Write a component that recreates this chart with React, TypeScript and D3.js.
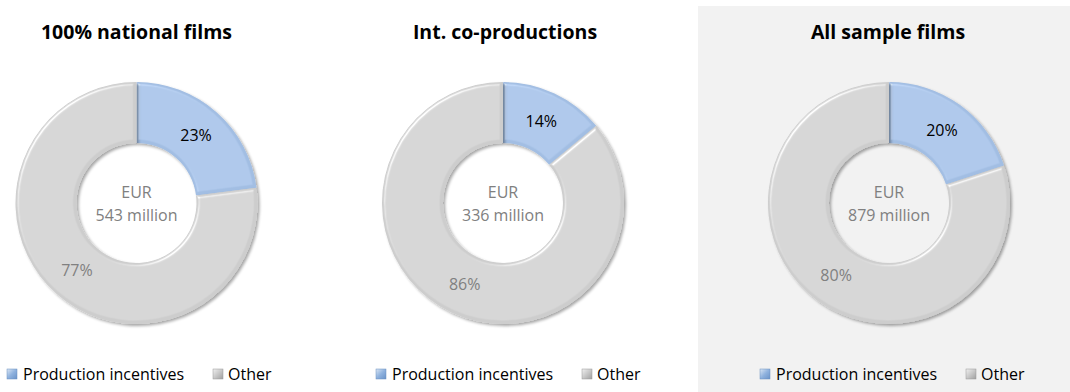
import React from "react";
import * as d3 from "d3";

const titles = ["100% national films", "Int. co-productions", "All sample films"];
const totalsEurMillion = [543, 336, 879];
const incentiveShare = [23, 14, 20];
const otherShare = [77, 86, 80];
const seriesNames = ["Production incentives", "Other"];

const W = 1070;
const H = 392;
const centersX = [136.5, 503, 889];
const titleX = [136.5, 505, 888];
const centerY = 203;
const outerR = 121;
const innerR = 60;
const colors = ["#a2bee3", "#cdcdcd"];
const labelColors = ["#000000", "#808080"];
const legendStartX = [7, 376, 760];
const FONT = "'Open Sans', Lato, sans-serif";

export default function App() {
  const pie = d3.pie<number>().sort(null).value((d) => d);
  const arc = d3.arc<d3.PieArcDatum<number>>().innerRadius(innerR).outerRadius(outerR);
  const labelArc = d3.arc<d3.PieArcDatum<number>>().innerRadius(90).outerRadius(90);

  return (
    <svg width={W} height={H} style={{ position: "absolute", left: 0, top: 0, display: "block" }}>
      <defs>
        <filter id="bevel" x="-5%" y="-5%" width="110%" height="110%">
          <feGaussianBlur in="SourceAlpha" stdDeviation="1.6" result="blur" />
          <feSpecularLighting in="blur" surfaceScale="2.5" specularConstant="0.7" specularExponent="18" lightingColor="#ffffff" result="spec">
            <feDistantLight azimuth="225" elevation="40" />
          </feSpecularLighting>
          <feComposite in="spec" in2="SourceAlpha" operator="in" result="specIn" />
          <feComposite in="SourceGraphic" in2="specIn" operator="arithmetic" k1="0" k2="1" k3="0.6" k4="0" result="lit" />
          <feOffset in="SourceAlpha" dx="1.5" dy="1.5" result="off" />
          <feGaussianBlur in="off" stdDeviation="1.5" result="shadowBlur" />
          <feComponentTransfer in="shadowBlur" result="shadow">
            <feFuncA type="linear" slope="0.35" />
          </feComponentTransfer>
          <feMerge>
            <feMergeNode in="shadow" />
            <feMergeNode in="lit" />
          </feMerge>
        </filter>
        <linearGradient id="legBlue" x1="0" y1="0" x2="1" y2="1">
          <stop offset="0" stopColor="#dbe6f4" />
          <stop offset="0.5" stopColor="#8fb2de" />
          <stop offset="1" stopColor="#6a93c8" />
        </linearGradient>
        <linearGradient id="legGray" x1="0" y1="0" x2="1" y2="1">
          <stop offset="0" stopColor="#f0f0f0" />
          <stop offset="0.5" stopColor="#c8c8c8" />
          <stop offset="1" stopColor="#a0a0a0" />
        </linearGradient>
      </defs>
      <rect x={0} y={0} width={W} height={H} fill="#ffffff" />
      <rect x={698} y={6} width={W - 698} height={H - 6} fill="#f2f2f2" />
      {titles.map((title, i) => {
        const cx = centersX[i];
        const arcs = pie([incentiveShare[i], otherShare[i]]);
        const lx = legendStartX[i];
        return (
          <g key={title}>
            <text x={titleX[i]} y={39} textAnchor="middle" fontFamily={FONT} fontWeight="bold" fontSize={19.5} fill="#000">
              {title}
            </text>
            <g transform={`translate(${cx},${centerY})`}>
              {arcs.map((a, j) => (
                <path key={j} d={arc(a) || ""} fill={colors[j]} filter="url(#bevel)" />
              ))}
              {arcs.map((a, j) => {
                const [x, y] = labelArc.centroid(a);
                return (
                  <text key={"l" + j} x={x} y={y} dy="0.35em" textAnchor="middle" fontFamily={FONT} fontSize={16} fill={labelColors[j]}>
                    {`${a.data}%`}
                  </text>
                );
              })}
              <text x={0} y={-11} dy="0.35em" textAnchor="middle" fontFamily={FONT} fontSize={16} fill="#808080">EUR</text>
              <text x={0} y={12} dy="0.35em" textAnchor="middle" fontFamily={FONT} fontSize={16} fill="#808080">
                {`${totalsEurMillion[i]} million`}
              </text>
            </g>
            <g transform={`translate(${lx},374)`}>
              <rect x={0} y={-5} width={10} height={10} fill="url(#legBlue)" stroke="#6a8fc0" strokeWidth={0.5} />
              <text x={16} y={0} dy="0.35em" fontFamily={FONT} fontSize={16} fill="#000">{seriesNames[0]}</text>
              <rect x={206} y={-5} width={10} height={10} fill="url(#legGray)" stroke="#999" strokeWidth={0.5} />
              <text x={221} y={0} dy="0.35em" fontFamily={FONT} fontSize={16} fill="#000">{seriesNames[1]}</text>
            </g>
          </g>
        );
      })}
    </svg>
  );
}
